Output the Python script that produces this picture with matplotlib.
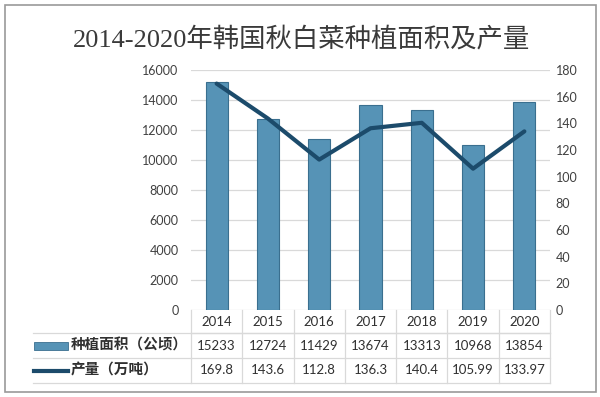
import numpy as np
import matplotlib.pyplot as plt
from matplotlib.patches import Rectangle
from matplotlib.lines import Line2D

plt.rcParams['font.family'] = ['Lato', 'Noto Sans CJK SC', 'DejaVu Sans']

years = ['2014', '2015', '2016', '2017', '2018', '2019', '2020']
area = [15233, 12724, 11429, 13674, 13313, 10968, 13854]          # 种植面积（公顷）
output = [169.8, 143.6, 112.8, 136.3, 140.4, 105.99, 133.97]      # 产量（万吨）
area_txt = ['15233', '12724', '11429', '13674', '13313', '10968', '13854']
output_txt = ['169.8', '143.6', '112.8', '136.3', '140.4', '105.99', '133.97']
row_names = ['种植面积（公顷）', '产量（万吨）']

bar_col = '#5693b6'
bar_edge = '#3a6f8f'
line_col = '#1c4b6b'
grid_col = '#d9d9d9'
txt_col = '#303030'

fig = plt.figure(figsize=(6, 3.97), dpi=100)
# outer frame
fig.patches.append(Rectangle((0.008, 0.013), 0.985, 0.975, transform=fig.transFigure,
                             fill=False, edgecolor='#9a9a9a', linewidth=1.2))
fig.text(0.503, 0.902, '2014-2020年韩国秋白菜种植面积及产量', ha='center', va='center',
         fontsize=19, color='#3a3a3a', family=['Liberation Serif', 'Noto Sans CJK SC'])

ax = fig.add_axes([191/600, 1-310/397, 359/600, 240/397])
x = np.arange(len(years))
ax.bar(x, area, width=0.43, color=bar_col, edgecolor=bar_edge, linewidth=0.8, zorder=2)
ax.set_xlim(-0.5, len(years)-0.5)
ax.set_ylim(0, 16000)
ax.set_yticks(np.arange(0, 16001, 2000))
ax.yaxis.grid(True, color=grid_col, linewidth=0.9)
ax.set_axisbelow(True)
ax.set_xticks([])
ax.tick_params(axis='y', length=0, pad=9, labelsize=9, labelcolor='#404040')
for s in ax.spines.values():
    s.set_visible(False)

ax2 = ax.twinx()
ax2.plot(x, output, color=line_col, linewidth=3, solid_capstyle='round', solid_joinstyle='round')
ax2.set_ylim(0, 180)
ax2.set_yticks(np.arange(0, 181, 20))
ax2.tick_params(axis='y', length=0, pad=4, labelsize=9, labelcolor='#404040')
for s in ax2.spines.values():
    s.set_visible(False)

# data table under the plot (axes fraction coords)
tr = ax.transAxes
n = len(years)
lab_x0 = (33-191)/359
row_y = [0, -23/240, -48/240, -73/240]
lk = dict(transform=tr, clip_on=False, color=grid_col, linewidth=0.9)
for i in range(n + 1):
    ax.add_line(Line2D([i/n, i/n], [row_y[0], row_y[3]], **lk))
ax.add_line(Line2D([0, 1], [row_y[1]]*2, **lk))
for yy in row_y[1:]:
    ax.add_line(Line2D([lab_x0, 1], [yy]*2, **lk))

for i in range(n):
    cx = (i + 0.5)/n
    ax.text(cx, (row_y[0]+row_y[1])/2, years[i], transform=tr, ha='center', va='center',
            fontsize=9.5, color=txt_col)
    ax.text(cx, (row_y[1]+row_y[2])/2, area_txt[i], transform=tr, ha='center', va='center',
            fontsize=9.5, color=txt_col)
    ax.text(cx, (row_y[2]+row_y[3])/2, output_txt[i], transform=tr, ha='center', va='center',
            fontsize=9.5, color=txt_col)

lab_tx = (71-191)/359
ax.text(lab_tx, (row_y[1]+row_y[2])/2, row_names[0], transform=tr, ha='left', va='center',
        fontsize=10.5, fontweight='bold', color=txt_col)
ax.text(lab_tx, (row_y[2]+row_y[3])/2, row_names[1], transform=tr, ha='left', va='center',
        fontsize=10.5, fontweight='bold', color=txt_col)

# legend keys in the row labels
kx0 = (34-191)/359
kx1 = (68-191)/359
ax.add_patch(Rectangle((kx0, (row_y[1]+row_y[2])/2 - 4/240), kx1-kx0, 8/240, transform=tr,
                       clip_on=False, facecolor=bar_col, edgecolor=bar_edge, linewidth=0.6))
ax.add_line(Line2D([kx0, kx1], [(row_y[2]+row_y[3])/2]*2, transform=tr, clip_on=False,
                   color=line_col, linewidth=3))

fig.savefig('out.png', dpi=100)
